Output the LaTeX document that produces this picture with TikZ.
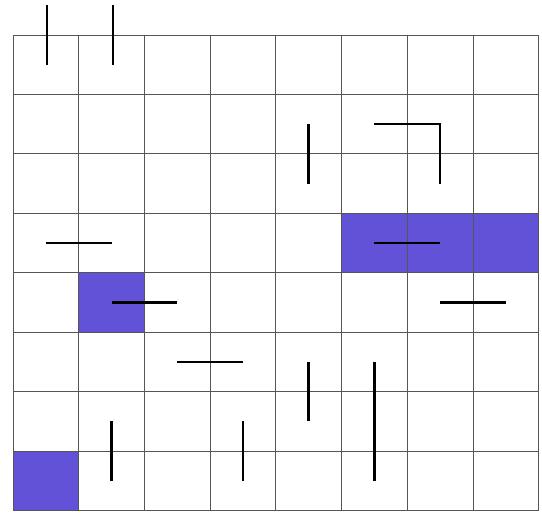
\documentclass[tikz,border=0pt]{standalone}
\usetikzlibrary{calc}
\definecolor{cellfill}{RGB}{98,82,216}
\definecolor{gridcol}{RGB}{85,85,85}
\begin{document}
\begin{tikzpicture}[x=1pt,y=-1pt,
  gridline/.style={draw=gridcol,line width=0.8pt},
  filled/.style={fill=cellfill},
  seg/.style={draw=black,line width=2.4pt}]
\useasboundingbox (0,0) rectangle (542,513);
\def\cw{65.7}\def\rh{59.45}\def\ox{13}\def\oy{35}
% filled cells
\foreach \c/\r in {5/3,6/3,7/3,1/4,0/7}{
  \fill[filled] ({\ox+\c*\cw},{\oy+\r*\rh}) rectangle ({\ox+(\c+1)*\cw},{\oy+(\r+1)*\rh});
}
% grid
\foreach \i in {0,...,8}{
  \draw[gridline] ({\ox+\i*\cw},\oy) -- ({\ox+\i*\cw},{\oy+8*\rh});
  \draw[gridline] (\ox,{\oy+\i*\rh}) -- ({\ox+8*\cw},{\oy+\i*\rh});
}
% cell centre coordinates
\foreach \c in {0,...,7}{
  \foreach \r in {-1,0,...,7}{
    \coordinate (p\c\r) at ({\ox+(\c+0.5)*\cw},{\oy+(\r+0.5)*\rh});
  }
}
\coordinate (t0a) at ($(p0-1)+(1.4,0)$);
\coordinate (t0b) at ($(p00)+(1.4,0)$);
\coordinate (t1a) at ($(p1-1)+(1.4,0)$);
\coordinate (t1b) at ($(p10)+(1.4,0)$);
% segments
\draw[seg] (t0a) -- (t0b);
\draw[seg] (t1a) -- (t1b);
\draw[seg] (p41) -- (p42);
\draw[seg] (p51) -- (p61) -- (p62);
\draw[seg] (p03) -- (p13);
\draw[seg] (p53) -- (p63);
\draw[seg] (p14) -- (p24);
\draw[seg] (p64) -- (p74);
\draw[seg] (p25) -- (p35);
\draw[seg] (p45) -- (p46);
\draw[seg] (p55) -- (p57);
\draw[seg] (p16) -- (p17);
\draw[seg] (p36) -- (p37);
\end{tikzpicture}
\end{document}
